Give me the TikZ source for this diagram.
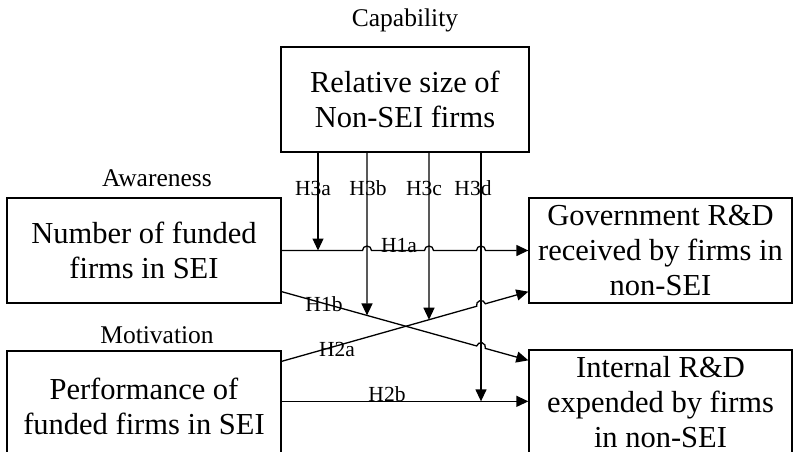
\documentclass[tikz,border=0pt]{standalone}
\usepackage{fontspec}
\setmainfont{Liberation Serif}
\usetikzlibrary{arrows.meta,calc,intersections}
\begin{document}
\begin{tikzpicture}[x=1pt,y=-1pt,
  box/.style={draw, line width=1.3pt, align=center, inner sep=0pt, font=\fontsize{30.5}{35}\selectfont},
  lab/.style={font=\fontsize{25.5}{28}\selectfont, inner sep=0pt},
  hl/.style={font=\fontsize{21.5}{24}\selectfont, inner sep=0pt},
  arr/.style={line width=1.3pt, -{Triangle[length=12pt,width=11pt]}}]
\useasboundingbox (0,0) rectangle (793,452);
\clip (0,0) rectangle (793,452);
% boxes
\node[box, minimum width=248pt, minimum height=105pt] (cap) at (405,99.5) {Relative size of\\Non-SEI firms};
\node[box, minimum width=274pt, minimum height=105pt] (aw) at (144,250.5) {Number of funded\\firms in SEI};
\node[box, minimum width=274pt, minimum height=110pt] (mo) at (144,406) {Performance of\\funded firms in SEI};
\node[box, minimum width=263pt, minimum height=105pt] (gov) at (660.5,250.5) {Government R\&D\\received by firms in\\non-SEI};
\node[box, minimum width=263pt, minimum height=105pt] (int) at (660.5,402.5) {Internal R\&D\\expended by firms\\in non-SEI};
% titles
\node[lab] (tcap) at (405,20) {Capability};
\node[lab] (taw) at (157,178) {Awareness};
\node[lab] (tmo) at (157,335) {Motivation};
% coordinates
\coordinate (x1) at (318,0);
\coordinate (x2) at (367,0);
\coordinate (x3) at (429,0);
\coordinate (x4) at (481,0);
\coordinate (p1) at ([yshift=12pt]aw.south east);
\coordinate (q1) at ([yshift=-11pt]int.north west);
\coordinate (p2) at ([yshift=-11pt]mo.north east);
\coordinate (q2) at ([yshift=12pt]gov.south west);
\coordinate (p3) at ([yshift=-51pt]mo.north east);
\coordinate (q3) at (p3 -| int.west);
\path[name path=L1b] (p1) -- (q1);
\path[name path=L2a] (p2) -- (q2);
\path[name path=V2] (x2 |- cap.south) -- ++(0,320);
\path[name path=V3] (x3 |- cap.south) -- ++(0,320);
\path[name path=V4] (x4 |- cap.south) -- ++(0,320);
\path[name intersections={of=L1b and V2, by=e2}];
\path[name intersections={of=L2a and V3, by=e3}];
\path[name intersections={of=L2a and V4, by=c2a}];
\path[name intersections={of=L1b and V4, by=c1b}];
% H1a with jumps
\draw[arr] (aw.east) -- ($(x2 |- aw.east)+(-4.5,0)$) arc[start angle=180, end angle=0, radius=4.5pt]
  -- ($(x3 |- aw.east)+(-4.5,0)$) arc[start angle=180, end angle=0, radius=4.5pt]
  -- ($(x4 |- aw.east)+(-4.5,0)$) arc[start angle=180, end angle=0, radius=4.5pt]
  -- (gov.west);
% H1b
\draw[arr] (p1) -- ($(c1b)!4.5pt!(p1)$) arc[start angle=164.25, end angle=-15.75, radius=4.5pt] -- (q1);
% H2a
\draw[arr] (p2) -- ($(c2a)!4.5pt!(p2)$) arc[start angle=195.97, end angle=15.97, radius=4.5pt] -- (q2);
% H2b
\draw[arr] (p3) -- (q3);
% vertical arrows
\draw[arr] (x1 |- cap.south) -- (x1 |- aw.east);
\draw[arr] (x2 |- cap.south) -- (e2);
\draw[arr] (x3 |- cap.south) -- (e3);
\draw[arr] (x4 |- cap.south) -- (x4 |- p3);
% labels
\node[hl] (h3a) at (313,188) {H3a};
\node[hl] (h3b) at (368,188) {H3b};
\node[hl] (h3c) at (424,188) {H3c};
\node[hl] (h3d) at (473,188) {H3d};
\node[hl] (h1a) at (399,246) {H1a};
\node[hl] (h1b) at (324,304) {H1b};
\node[hl] (h2a) at (337,349.5) {H2a};
\node[hl] (h2b) at (387,394.5) {H2b};
\end{tikzpicture}
\end{document}
